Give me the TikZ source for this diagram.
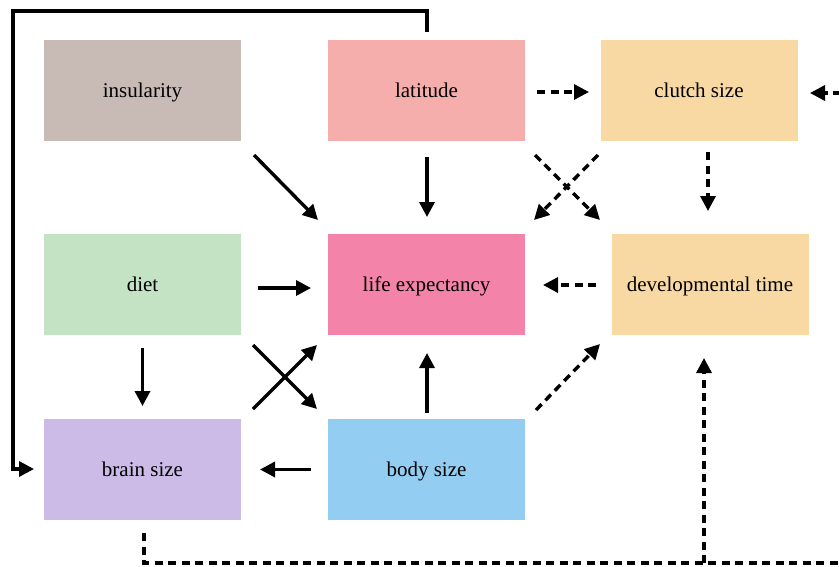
\documentclass[tikz,border=0pt]{standalone}
\usepackage{fontspec}
\setmainfont{Liberation Serif}
\usetikzlibrary{arrows.meta,calc}
\definecolor{cIns}{HTML}{C8BAB4}
\definecolor{cLat}{HTML}{F6AEAD}
\definecolor{cClutch}{HTML}{F8D9A4}
\definecolor{cDiet}{HTML}{C4E3C5}
\definecolor{cLife}{HTML}{F383A8}
\definecolor{cDev}{HTML}{F8D9A4}
\definecolor{cBrain}{HTML}{CBBBE6}
\definecolor{cBody}{HTML}{93CEF2}
\begin{document}
\begin{tikzpicture}[x=1pt,y=-1pt,
  box/.style={minimum width=197pt,minimum height=101pt,inner sep=0pt,
    text height=19.4pt,text depth=5pt,
    font=\fontsize{21}{25}\selectfont},
  sol/.style={line width=3.4pt,-{Triangle[length=15pt,width=15pt]}},
  dsh/.style={sol,dash pattern=on 8pt off 5.5pt}]
\useasboundingbox (0,0) rectangle (839,566);
\clip (0,0) rectangle (839,566);
\node[box,fill=cIns]    (ins)    at (142.5,90.5)  {insularity};
\node[box,fill=cLat]    (lat)    at (426.5,90.5)  {latitude};
\node[box,fill=cClutch] (clutch) at (699,90.5)    {clutch size};
\node[box,fill=cDiet]   (diet)   at (142.5,284.5) {diet};
\node[box,fill=cLife]   (life)   at (426.5,284.5) {life expectancy};
\node[box,fill=cDev]    (dev)    at (710,284.5)   {developmental time};
\node[box,fill=cBrain]  (brain)  at (142.5,469.5) {brain size};
\node[box,fill=cBody]   (body)   at (426.5,469.5) {body size};
\coordinate (tl) at (13,11);
\coordinate (br) at (850,563);
\coordinate (junc) at (704,563);
% solid
\draw[sol] ($(ins)+(111.5,64.5)$) -- ($(life)+(-108.5,-64.5)$);
\draw[sol] ($(lat)+(0.5,66.5)$) -- ($(life)+(0.5,-67.5)$);
\draw[sol] ($(diet)+(115.5,3.5)$) -- ($(life)+(-115.5,3.5)$);
\draw[sol] ($(diet)+(0,63.5)$) -- ($(brain)+(0,-63.5)$);
\draw[sol] ($(diet)+(110.5,60.5)$) -- ($(body)+(-109.5,-60.5)$);
\draw[sol] ($(brain)+(110.5,-60.5)$) -- ($(life)+(-109.5,60.5)$);
\draw[sol] ($(body)+(0.5,-56.5)$) -- ($(life)+(0.5,68.5)$);
\draw[sol] ($(body)+(-115.5,0)$) -- ($(brain)+(117.5,0)$);
\draw[sol] ($(lat)+(0.5,-58.5)$) |- (tl) |- ($(brain)+(-108.5,-0.5)$);
% dashed
\draw[dsh] ($(lat)+(110.5,1.5)$) -- ($(clutch)+(-110,1.5)$);
\draw[dsh] ($(lat)+(108.5,64.5)$) -- ($(dev)+(-110,-64.5)$);
\draw[dsh] ($(clutch)+(-101,64.5)$) -- ($(life)+(107.5,-64.5)$);
\draw[dsh] ($(clutch)+(9,61.5)$) -- ($(dev)+(-2,-73.5)$);
\draw[dsh] ($(dev)+(-114,0.5)$) -- ($(life)+(116.5,0.5)$);
\draw[dsh] ($(body)+(109.5,-59.5)$) -- ($(dev)+(-110,59.5)$);
\draw[dsh] ($(brain)+(1.5,63.5)$) |- (br) |- ($(clutch)+(111,2.5)$);
\draw[dsh] (junc) -- ($(dev)+(-6,73.5)$);
\end{tikzpicture}
\end{document}
